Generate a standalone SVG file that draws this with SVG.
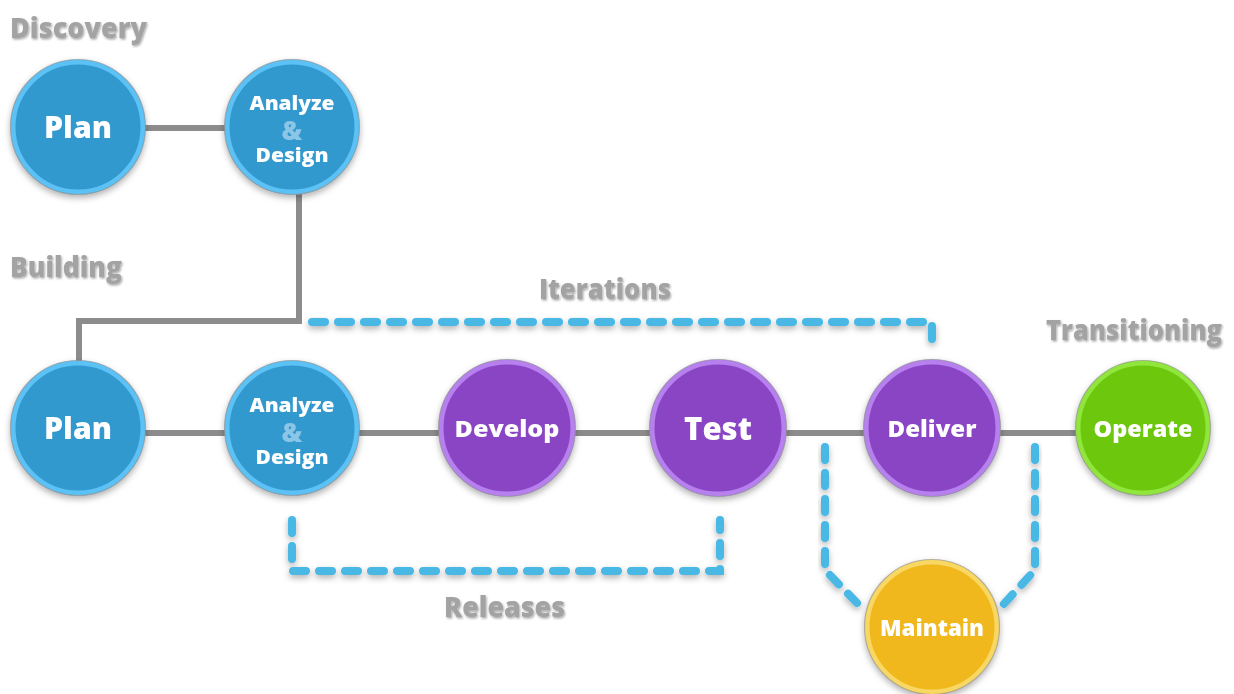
<svg xmlns="http://www.w3.org/2000/svg" width="1234" height="694" viewBox="0 0 1234 694">
<defs>
  <filter id="sh" x="-20%" y="-20%" width="140%" height="150%">
    <feDropShadow dx="0" dy="3" stdDeviation="3" flood-color="#000" flood-opacity="0.3"/>
  </filter>
  <filter id="tsh" x="-10%" y="-20%" width="120%" height="150%">
    <feDropShadow dx="1" dy="1.5" stdDeviation="0.8" flood-color="#000" flood-opacity="0.35"/>
  </filter>
</defs>
<style>
  .lbl{font-family:"Open Sans","Liberation Sans",sans-serif;font-weight:800;fill:#a3a3a3;font-size:29px;filter:url(#tsh)}
  .nt{font-family:"Open Sans","Liberation Sans",sans-serif;font-weight:800;fill:#fff;text-anchor:middle}
  .amp{font-family:"Open Sans","Liberation Sans",sans-serif;font-weight:800;fill:#8cc6e6;text-anchor:middle;font-size:26px}
  .blue{fill:#3399cf;stroke:#5cc2f6;stroke-width:5}
  .purple{fill:#8a45c5;stroke:#b680ee;stroke-width:5}
  .green{fill:#6dc70c;stroke:#90e63c;stroke-width:5}
  .yellow{fill:#f0b81a;stroke:#f9d763;stroke-width:5}
  .ring{fill:none;stroke:#8a8a8a;stroke-width:1.2;stroke-opacity:0.6}
  .solid{fill:none;stroke:#8c8c8c;stroke-width:6}
  .dash{fill:none;stroke:#48b8e4;stroke-width:8;stroke-linecap:round;stroke-dasharray:13 13;filter:url(#sh)}
</style>
<rect width="1234" height="694" fill="#fff"/>

<g id="labels">
  <text class="lbl" x="10" y="38" textLength="137" lengthAdjust="spacingAndGlyphs">Discovery</text>
  <text class="lbl" x="10" y="277" textLength="112" lengthAdjust="spacingAndGlyphs">Building</text>
  <text class="lbl" x="539" y="299" textLength="132" lengthAdjust="spacingAndGlyphs">Iterations</text>
  <text class="lbl" x="1046" y="340" font-size="26.5" textLength="176" lengthAdjust="spacingAndGlyphs">Transitioning</text>
  <text class="lbl" x="444" y="617" textLength="121" lengthAdjust="spacingAndGlyphs">Releases</text>
</g>

<g id="connectors">
  <line class="solid" x1="140" y1="128" x2="230" y2="128"/>
  <polyline class="solid" points="299,190 299,321 79,321 79,365"/>
  <line class="solid" x1="140" y1="433" x2="1080" y2="433"/>
  <polyline class="dash" points="312,322 932,322 932,349"/>
  <polyline class="dash" points="292,520 292,571 720,571 720,520"/>
  <polyline class="dash" points="825,447 825,570 860,606"/>
  <polyline class="dash" points="1035,447 1035,570 1002,606"/>
</g>

<g id="plan1" filter="url(#sh)">
  <circle class="blue" cx="78" cy="127" r="65"/>
  <circle class="ring" cx="78" cy="127" r="67.5"/>
  <text class="nt" x="78" y="138" font-size="30" textLength="68" lengthAdjust="spacingAndGlyphs">Plan</text>
</g>
<g id="analyze1" filter="url(#sh)">
  <circle class="blue" cx="292" cy="127" r="65"/>
  <circle class="ring" cx="292" cy="127" r="67.5"/>
  <text class="amp" x="292" y="140">&amp;</text>
  <text class="nt" x="292" y="110" font-size="20" textLength="85" lengthAdjust="spacingAndGlyphs">Analyze</text>
  <text class="nt" x="292" y="162" font-size="20" textLength="73" lengthAdjust="spacingAndGlyphs">Design</text>
</g>

<g id="plan2" filter="url(#sh)">
  <circle class="blue" cx="78" cy="428" r="65"/>
  <circle class="ring" cx="78" cy="428" r="67.5"/>
  <text class="nt" x="78" y="439" font-size="30" textLength="68" lengthAdjust="spacingAndGlyphs">Plan</text>
</g>
<g id="analyze2" filter="url(#sh)">
  <circle class="blue" cx="292" cy="428" r="65"/>
  <circle class="ring" cx="292" cy="428" r="67.5"/>
  <text class="amp" x="292" y="442">&amp;</text>
  <text class="nt" x="292" y="412" font-size="20" textLength="85" lengthAdjust="spacingAndGlyphs">Analyze</text>
  <text class="nt" x="292" y="464" font-size="20" textLength="73" lengthAdjust="spacingAndGlyphs">Design</text>
</g>
<g id="develop" filter="url(#sh)">
  <circle class="purple" cx="507" cy="428" r="66"/>
  <circle class="ring" cx="507" cy="428" r="68.5"/>
  <text class="nt" x="507" y="437" font-size="23" textLength="105" lengthAdjust="spacingAndGlyphs">Develop</text>
</g>
<g id="test" filter="url(#sh)">
  <circle class="purple" cx="718" cy="428" r="66"/>
  <circle class="ring" cx="718" cy="428" r="68.5"/>
  <text class="nt" x="718" y="440" font-size="32" textLength="68" lengthAdjust="spacingAndGlyphs">Test</text>
</g>
<g id="deliver" filter="url(#sh)">
  <circle class="purple" cx="932" cy="428" r="66"/>
  <circle class="ring" cx="932" cy="428" r="68.5"/>
  <text class="nt" x="932" y="437" font-size="23" textLength="89" lengthAdjust="spacingAndGlyphs">Deliver</text>
</g>
<g id="operate" filter="url(#sh)">
  <circle class="green" cx="1143" cy="428" r="65"/>
  <circle class="ring" cx="1143" cy="428" r="67.5"/>
  <text class="nt" x="1143" y="437" font-size="23" textLength="99" lengthAdjust="spacingAndGlyphs">Operate</text>
</g>
<g id="maintain" filter="url(#sh)">
  <circle class="yellow" cx="932" cy="627" r="65"/>
  <circle class="ring" cx="932" cy="627" r="67.5"/>
  <text class="nt" x="932" y="636" font-size="23" textLength="104" lengthAdjust="spacingAndGlyphs">Maintain</text>
</g>
</svg>
